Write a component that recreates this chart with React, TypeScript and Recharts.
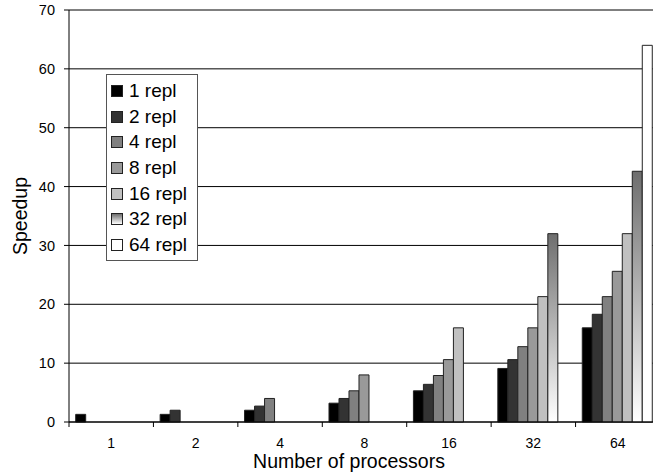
import { BarChart, Bar, XAxis, YAxis, CartesianGrid, Legend, Label } from 'recharts';

const processors = ['1', '2', '4', '8', '16', '32', '64'];
const repl1 = [1.3, 1.3, 2.0, 3.2, 5.3, 9.1, 16.0];
const repl2 = [null, 2.0, 2.7, 4.0, 6.4, 10.6, 18.3];
const repl4 = [null, null, 4.0, 5.3, 7.9, 12.8, 21.3];
const repl8 = [null, null, null, 8.0, 10.6, 16.0, 25.6];
const repl16 = [null, null, null, null, 16.0, 21.3, 32.0];
const repl32 = [null, null, null, null, null, 32.0, 42.6];
const repl64 = [null, null, null, null, null, null, 64.0];
const yTicks = [0, 10, 20, 30, 40, 50, 60, 70];

const FONT = '"Liberation Sans", Arial, Helvetica, sans-serif';
const CHART_W = 662;
const CHART_H = 476;
const MARGIN = { top: 10, right: 2, bottom: 0, left: 0 };
const Y_AXIS_W = 69;

const series = [
    { key: 'r1', name: '1 repl', values: repl1, fill: '#000000', css: '#000000' },
    { key: 'r2', name: '2 repl', values: repl2, fill: '#333333', css: '#333333' },
    { key: 'r4', name: '4 repl', values: repl4, fill: '#808080', css: '#808080' },
    { key: 'r8', name: '8 repl', values: repl8, fill: '#999999', css: '#999999' },
    { key: 'r16', name: '16 repl', values: repl16, fill: '#c0c0c0', css: '#c0c0c0' },
    { key: 'r32', name: '32 repl', values: repl32, fill: 'url(#grad32)', css: 'linear-gradient(#6e6e6e, #ffffff)' },
    { key: 'r64', name: '64 repl', values: repl64, fill: '#ffffff', css: '#ffffff' },
];

const data = processors.map((p, i) => {
    const row: any = { proc: p };
    series.forEach((s) => { row[s.key] = s.values[i]; });
    return row;
});

const bandWidth = (CHART_W - MARGIN.left - MARGIN.right - Y_AXIS_W) / processors.length;

const XTick = ({ x, y, payload, index }: any) => {
    const top = y - 8;
    return (
        <g>
            <line x1={x - bandWidth / 2} y1={top} x2={x - bandWidth / 2} y2={top + 5} stroke="#000" />
            {index === processors.length - 1 && (
                <line x1={x + bandWidth / 2} y1={top} x2={x + bandWidth / 2} y2={top + 5} stroke="#000" />
            )}
            <text x={x} y={top + 25.5} textAnchor="middle" fontSize={14} fontFamily={FONT} fill="#000">
                {payload.value}
            </text>
        </g>
    );
};

const YLabel = ({ viewBox }: any) => {
    const cx = viewBox.x + 20;
    const cy = viewBox.y + viewBox.height / 2;
    return (
        <text x={cx} y={cy} transform={`rotate(-90 ${cx} ${cy})`} textAnchor="middle" dominantBaseline="central"
            fontSize={19.5} fontFamily={FONT} fill="#000">
            Speedup
        </text>
    );
};

const XLabel = () => (
    <text x={349} y={468} textAnchor="middle" fontSize={19.5} fontFamily={FONT} fill="#000">
        Number of processors
    </text>
);

const LegendBox = () => (
    <div style={{
        border: '1px solid #555', background: '#fff', padding: '3px 4px 2px 4px',
        fontFamily: FONT, fontSize: 19, color: '#000', width: 82,
    }}>
        {series.map((s) => (
            <div key={s.key} style={{ display: 'flex', alignItems: 'center', height: 25.7 }}>
                <span style={{
                    display: 'inline-block', width: 10, height: 10, border: '1px solid #222',
                    background: s.css, marginRight: 6, flexShrink: 0,
                }} />
                <span style={{ lineHeight: '20px', whiteSpace: 'nowrap' }}>{s.name}</span>
            </div>
        ))}
    </div>
);

export default function App() {
    return (
        <div style={{ position: 'absolute', left: 0, top: 0, width: 653, height: 476, overflow: 'hidden', background: '#fff' }}>
            <BarChart width={CHART_W} height={CHART_H} data={data} margin={MARGIN} barGap={0} barCategoryGap={6.7}>
                <defs>
                    <linearGradient id="grad32" x1="0" y1="0" x2="0" y2="1">
                        <stop offset="0%" stopColor="#6e6e6e" />
                        <stop offset="100%" stopColor="#ffffff" />
                    </linearGradient>
                </defs>
                <CartesianGrid vertical={false} stroke="#000" />
                <XAxis dataKey="proc" height={54} tickLine={false} axisLine={{ stroke: '#000' }}
                    tick={<XTick />} interval={0}>
                    <Label content={<XLabel />} />
                </XAxis>
                <YAxis width={Y_AXIS_W} domain={[0, 70]} ticks={yTicks} interval={0}
                    axisLine={{ stroke: '#000' }} tickLine={{ stroke: '#000' }} tickSize={5} tickMargin={9}
                    tick={{ fill: '#000', fontSize: 14.5, fontFamily: FONT }}>
                    <Label content={<YLabel />} />
                </YAxis>
                <Legend layout="vertical" align="center" verticalAlign="middle" content={<LegendBox />}
                    wrapperStyle={{ position: 'absolute', left: 106, top: 74, width: 'auto', height: 'auto' }} />
                {series.map((s) => (
                    <Bar key={s.key} dataKey={s.key} name={s.name} fill={s.fill} stroke="#222" strokeWidth={1}
                        isAnimationActive={false} />
                ))}
            </BarChart>
        </div>
    );
}
